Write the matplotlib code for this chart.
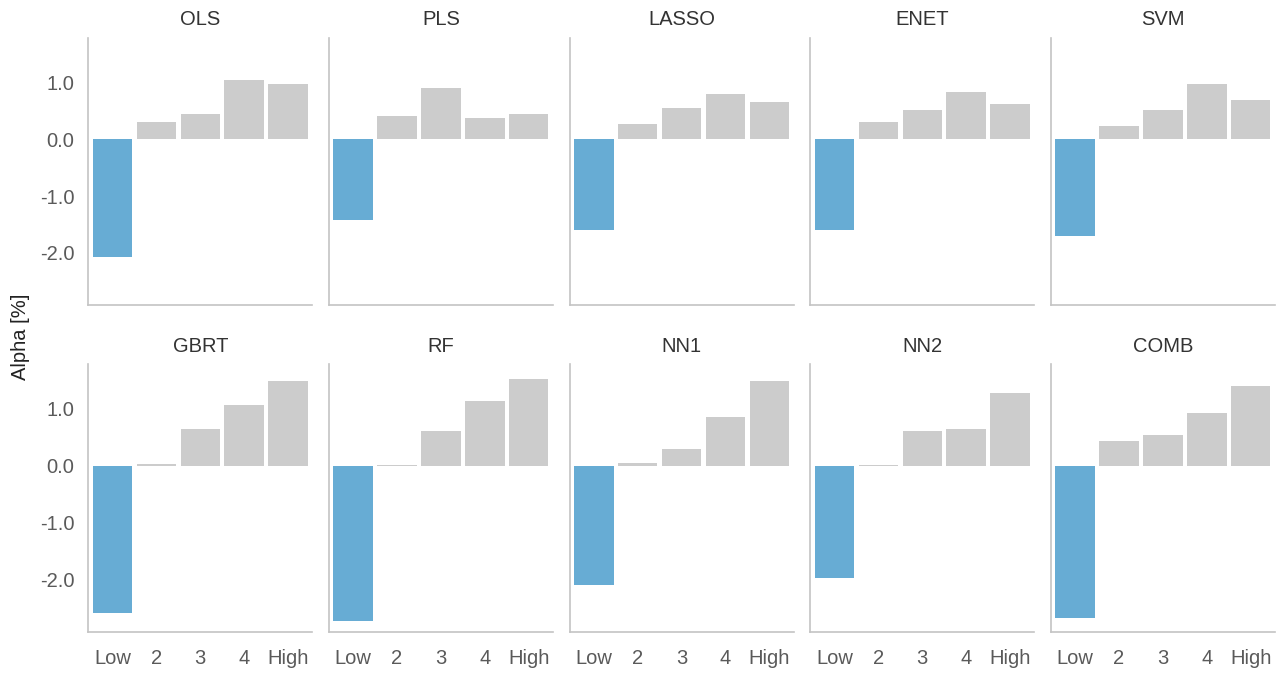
import numpy as np
import matplotlib.pyplot as plt

plt.rcParams['font.family'] = ['Liberation Sans', 'DejaVu Sans']

models = ["OLS", "PLS", "LASSO", "ENET", "SVM",
          "GBRT", "RF", "NN1", "NN2", "COMB"]
deciles = ["Low", "2", "3", "4", "High"]

# alpha per quintile portfolio, in percent
alpha_ols = [-2.07, 0.30, 0.44, 1.04, 0.97]
alpha_pls = [-1.42, 0.40, 0.89, 0.37, 0.44]
alpha_lasso = [-1.60, 0.26, 0.54, 0.79, 0.65]
alpha_enet = [-1.60, 0.30, 0.51, 0.82, 0.61]
alpha_svm = [-1.70, 0.23, 0.51, 0.96, 0.68]
alpha_gbrt = [-2.58, 0.03, 0.65, 1.07, 1.49]
alpha_rf = [-2.72, 0.02, 0.61, 1.14, 1.53]
alpha_nn1 = [-2.09, 0.05, 0.30, 0.86, 1.49]
alpha_nn2 = [-1.98, 0.01, 0.61, 0.65, 1.28]
alpha_comb = [-2.68, 0.44, 0.54, 0.93, 1.39]

alphas = [alpha_ols, alpha_pls, alpha_lasso, alpha_enet, alpha_svm,
          alpha_gbrt, alpha_rf, alpha_nn1, alpha_nn2, alpha_comb]

blue = "#67acd4"
grey = "#cccccc"
spine_col = "#c4c4c4"

fig, axes = plt.subplots(2, 5, figsize=(12.8, 6.73), dpi=100, sharey=True)
fig.subplots_adjust(left=0.069, right=0.996, top=0.944, bottom=0.061,
                    wspace=0.075, hspace=0.22)

x = np.arange(len(deciles))
for i, ax in enumerate(axes.flat):
    vals = alphas[i]
    colors = [blue] + [grey] * (len(vals) - 1)
    ax.bar(x, vals, width=0.9, color=colors)
    ax.set_title(models[i], fontsize=14.5, color="#333333", pad=9)
    ax.set_xlim(-0.55, 4.55)
    ax.set_ylim(-2.92, 1.78)
    ax.set_yticks([1.0, 0.0, -1.0, -2.0])
    ax.set_yticklabels(["1.0", "0.0", "-1.0", "-2.0"])
    for s in ["top", "right"]:
        ax.spines[s].set_visible(False)
    for s in ["left", "bottom"]:
        ax.spines[s].set_color(spine_col)
        ax.spines[s].set_linewidth(1.2)
    ax.tick_params(length=0, labelsize=14.5, colors="#5a5a5a")
    ax.tick_params(axis="y", pad=10)
    ax.tick_params(axis="x", pad=12)
    if i < 5:
        ax.set_xticks([])
    else:
        ax.set_xticks(x)
        ax.set_xticklabels(deciles)

fig.text(0.016, 0.5, "Alpha [%]", rotation=90, va="center", ha="center",
         fontsize=14.5, color="#222222")

fig.savefig("out.png", dpi=100)
